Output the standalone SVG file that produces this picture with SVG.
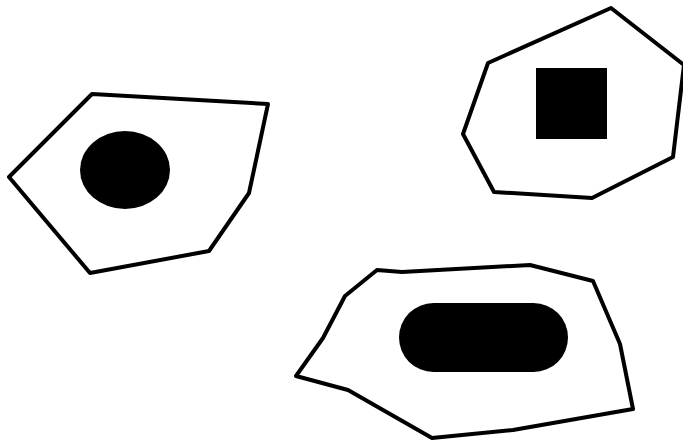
<svg xmlns="http://www.w3.org/2000/svg" width="683" height="441" viewBox="0 0 683 441">
<style>
.cell{fill:#fff;stroke:#000;stroke-width:4;stroke-linejoin:round}
.core{fill:#000}
</style>
<rect width="683" height="441" fill="#fff"/>
<g id="cell-left">
<polygon class="cell" points="92,94 268,104 249,193 209,251 90,273 9,177"/>
<ellipse class="core" cx="125" cy="170" rx="45" ry="39"/>
</g>
<g id="cell-right">
<polygon class="cell" points="488,63 611,8 684,65 673,157 592,198 494,192 463,134"/>
<rect class="core" x="536" y="68" width="71" height="71"/>
</g>
<g id="cell-bottom">
<polygon class="cell" points="377,270 402,272 530,265 593,281 620,344 633,409 513,430 432,438 348,390 296,376 323,338 345,296"/>
<rect class="core" x="399" y="303" width="169" height="69" rx="34.5" ry="34.5"/>
</g>
</svg>
